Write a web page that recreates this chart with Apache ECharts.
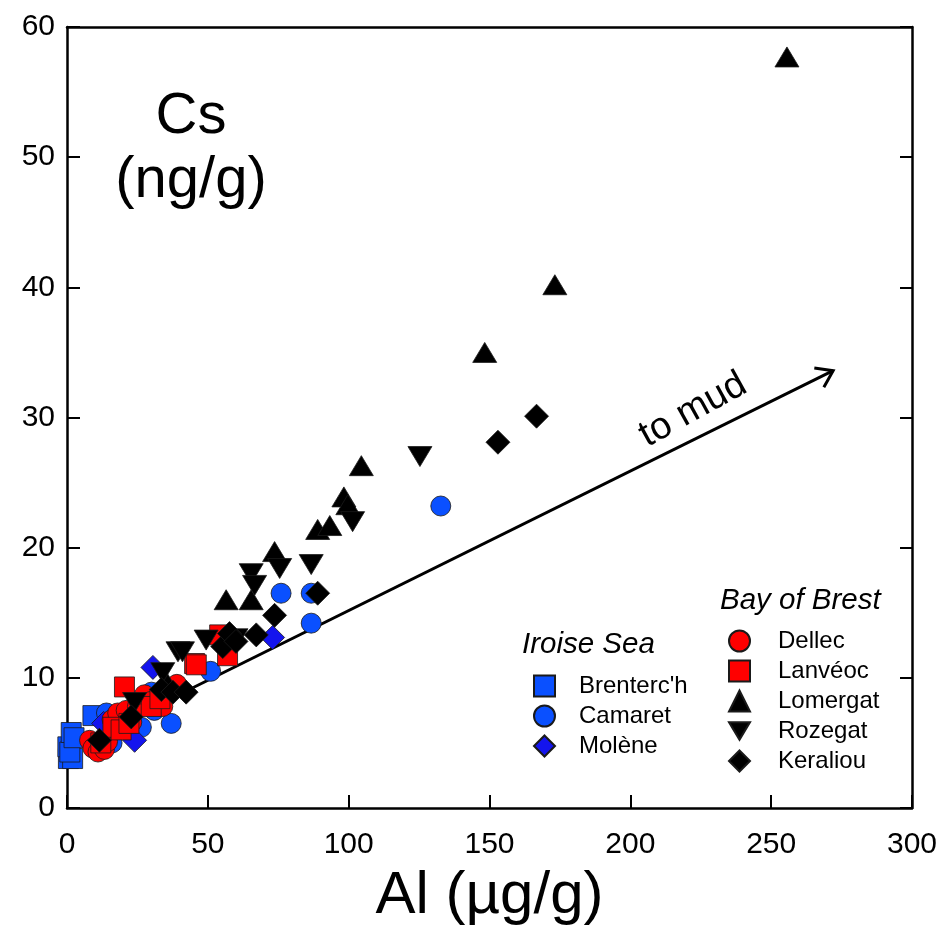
<!DOCTYPE html>
<html>
<head>
<meta charset="utf-8">
<script src="https://cdn.jsdelivr.net/npm/echarts@6/dist/echarts.min.js"></script>
<style>
  html, body { margin: 0; padding: 0; background: #fff; }
  #chart { width: 941px; height: 934px; }
</style>
</head>
<body>
<div id="chart"></div>
<script>
// Al (µg/g) vs Cs (ng/g), one array per site
const brentercH = [[0.5, 3.8], [2, 3.8], [0.3, 4.7], [1, 4.3], [1.5, 5.8], [2.5, 5.4], [9.2, 7.1]];
const camaret = [[14, 7.3], [16, 5.0], [26.4, 6.2], [30, 8.9], [31, 7.5], [37, 6.5], [51, 10.5],
  [76, 16.5], [86.7, 16.5], [86.7, 14.2], [132.7, 23.2]];
const molene = [[13, 6.5], [24, 5.2], [30.5, 10.8], [73, 13.1]];
const dellec = [[8, 5.2], [9.2, 4.6], [11, 4.3], [13.3, 4.5], [14.4, 5.1], [16, 6.8], [18, 7.3],
  [21, 7.5], [23, 6.6], [25, 7.8], [27.5, 8.7], [30, 8.2], [34, 7.8], [39, 9.5]];
const lanveoc = [[12, 5.0], [16.3, 6.2], [19.2, 6.0], [20.4, 9.3], [22, 6.5], [29.9, 7.8], [33, 8.4],
  [45.3, 11.1], [45.9, 11.0], [54.2, 13.3], [57, 11.7]];
const lomergat = [[35, 9.8], [56.5, 16], [65.4, 16], [73.7, 19.7], [89, 21.4], [93.3, 21.7], [98.3, 23.9],
  [99.7, 23.3], [104.5, 26.3], [148.3, 35], [173.2, 40.2], [255.6, 57.7]];
const rozegat = [[24, 8.1], [34, 10.4], [39.4, 12], [41, 12], [49.4, 12.9], [60, 13], [65.4, 18],
  [66.6, 17.1], [75.5, 18.4], [86.7, 18.7], [101.4, 22], [125.3, 27]];
const keraliou = [[11.5, 5.2], [22.8, 7], [33.5, 9.1], [37.6, 8.9], [42.3, 8.9], [55.3, 12.4], [57.7, 13.4],
  [60, 12.8], [67.2, 13.3], [73.7, 14.8], [89, 16.5], [153, 28.1], [166.7, 30.1]];

// "to mud" arrow, start and end in data units
const arrowStart = [35, 8.2];
const arrowEnd = [272, 33.6];

const xTicks = { min: 0, max: 300, interval: 50 };
const yTicks = { min: 0, max: 60, interval: 10 };

const iroiseNames = ["Brenterc'h", 'Camaret', 'Molène'];
const brestNames = ['Dellec', 'Lanvéoc', 'Lomergat', 'Rozegat', 'Keraliou'];

const FONT = 'Arial, "Liberation Sans", sans-serif';
const BLUE = '#0a50ff';
const RED = '#ff0000';
// downward triangle for the legend (rotation is not passed on to legend icons)
const DOWN_TRI = 'path://M0,0 L24,0 L12,20 Z';

const chart = echarts.init(document.getElementById('chart'));

function scatter(name, data, symbol, color, size, rotate) {
  return {
    name: name,
    type: 'scatter',
    data: data,
    symbol: symbol,
    symbolSize: size,
    symbolRotate: rotate || 0,
    itemStyle: {
      color: color,
      borderColor: '#1a1a1a',
      borderWidth: 0.8,
      opacity: 1
    },
    emphasis: { disabled: true }
  };
}

const axisLine = { show: true, onZero: false, lineStyle: { color: '#000', width: 2.5 } };
const tick = { inside: true, length: 13, lineStyle: { color: '#000', width: 2 } };

const option = {
  animation: false,
  backgroundColor: '#fff',
  textStyle: { fontFamily: FONT },
  grid: { left: 67, right: 29, top: 27, bottom: 126 },
  xAxis: [
    {
      type: 'value', min: xTicks.min, max: xTicks.max, interval: xTicks.interval,
      position: 'bottom',
      axisLine: axisLine,
      axisTick: tick,
      axisLabel: { fontSize: 30, color: '#000', margin: 22, fontFamily: FONT },
      splitLine: { show: false },
      name: 'Al (µg/g)',
      nameLocation: 'middle',
      nameGap: 58,
      nameTextStyle: { fontSize: 60, color: '#000', fontFamily: FONT }
    },
    {
      type: 'value', min: xTicks.min, max: xTicks.max, interval: xTicks.interval,
      position: 'top',
      axisLine: axisLine,
      axisTick: { show: false },
      axisLabel: { show: false },
      splitLine: { show: false }
    }
  ],
  yAxis: [
    {
      type: 'value', min: yTicks.min, max: yTicks.max, interval: yTicks.interval,
      position: 'left',
      axisLine: axisLine,
      axisTick: tick,
      axisLabel: { fontSize: 30, color: '#000', margin: 12, fontFamily: FONT },
      splitLine: { show: false }
    },
    {
      type: 'value', min: yTicks.min, max: yTicks.max, interval: yTicks.interval,
      position: 'right',
      axisLine: axisLine,
      axisTick: { inside: true, length: 12, lineStyle: { color: '#000', width: 2 } },
      axisLabel: { show: false },
      splitLine: { show: false }
    }
  ],
  legend: [
    {
      data: iroiseNames,
      orient: 'vertical',
      left: 528, top: 669,
      itemWidth: 21, itemHeight: 21, itemGap: 6,
      textStyle: { fontSize: 24, color: '#000', fontFamily: FONT, padding: [0, 0, 0, 19], lineHeight: 21 },
      selectedMode: false
    },
    {
      data: ['Dellec', 'Lanvéoc', 'Lomergat', { name: 'Rozegat', icon: DOWN_TRI }, 'Keraliou'],
      orient: 'vertical',
      left: 723, top: 624,
      itemWidth: 21, itemHeight: 21, itemGap: 6,
      textStyle: { fontSize: 24, color: '#000', fontFamily: FONT, padding: [0, 0, 0, 23], lineHeight: 21 },
      selectedMode: false
    }
  ],
  graphic: [
    { type: 'text', x: 191, y: 117, style: { text: 'Cs', font: '58px ' + FONT, fill: '#000', align: 'center', verticalAlign: 'middle' } },
    { type: 'text', x: 191, y: 181, style: { text: '(ng/g)', font: '58px ' + FONT, fill: '#000', align: 'center', verticalAlign: 'middle' } },
    { type: 'text', x: 522, y: 645, style: { text: 'Iroise Sea', font: 'italic 29.5px ' + FONT, fill: '#000', align: 'left', verticalAlign: 'middle' } },
    { type: 'text', x: 720, y: 601, style: { text: 'Bay of Brest', font: 'italic 29.5px ' + FONT, fill: '#000', align: 'left', verticalAlign: 'middle' } },
    { type: 'text', x: 693, y: 410, rotation: 29 * Math.PI / 180, style: { text: 'to mud', font: '38px ' + FONT, fill: '#000', align: 'center', verticalAlign: 'middle' } }
  ],
  series: [
    {
      type: 'custom',
      name: 'arrow',
      silent: true,
      data: [arrowStart.concat(arrowEnd)],
      encode: { x: [0, 2], y: [1, 3] },
      renderItem: function (params, api) {
        const p0 = api.coord([api.value(0), api.value(1)]);
        const p1 = api.coord([api.value(2), api.value(3)]);
        const a = Math.atan2(p1[1] - p0[1], p1[0] - p0[0]);
        const L = 19, s = 0.6;
        return {
          type: 'group',
          children: [
            { type: 'line', shape: { x1: p0[0], y1: p0[1], x2: p1[0], y2: p1[1] }, style: { stroke: '#000', lineWidth: 3 } },
            {
              type: 'polyline',
              shape: {
                points: [
                  [p1[0] - L * Math.cos(a - s), p1[1] - L * Math.sin(a - s)],
                  p1,
                  [p1[0] - L * Math.cos(a + s), p1[1] - L * Math.sin(a + s)]
                ]
              },
              style: { stroke: '#000', lineWidth: 3, fill: null, lineJoin: 'miter' }
            }
          ]
        };
      }
    },
    scatter("Brenterc'h", brentercH, 'rect', BLUE, 20),
    scatter('Camaret', camaret, 'circle', BLUE, 20),
    scatter('Molène', molene, 'diamond', '#1414ee', 24),
    scatter('Dellec', dellec, 'circle', RED, 20),
    scatter('Lanvéoc', lanveoc, 'rect', RED, 20),
    scatter('Lomergat', lomergat, 'triangle', '#000', [24, 20]),
    scatter('Rozegat', rozegat, 'triangle', '#000', [24, 20], 180),
    scatter('Keraliou', keraliou, 'diamond', '#000', 24)
  ]
};

chart.setOption(option);
</script>
</body>
</html>
